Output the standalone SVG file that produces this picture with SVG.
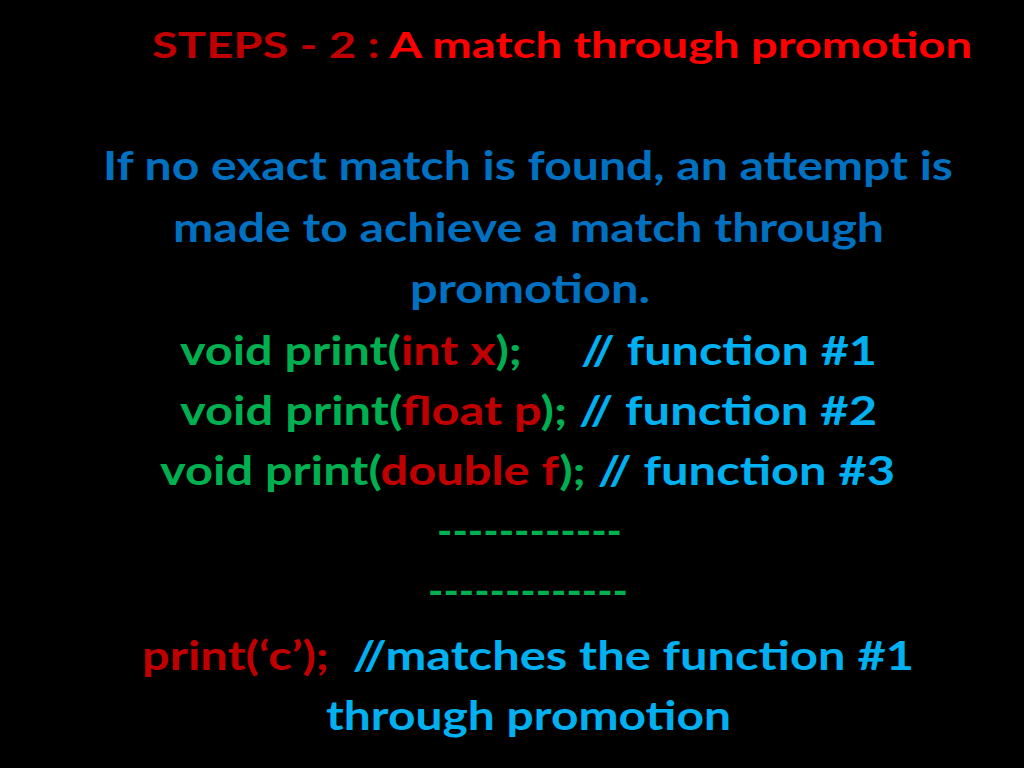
<svg xmlns="http://www.w3.org/2000/svg" width="1024" height="768" viewBox="0 0 1024 768">
<style>
text{font-family:Lato,"Open Sans","Liberation Sans",sans-serif;font-weight:bold;font-size:40px}
.dr{fill:#C00000}.r{fill:#FF0000}.b{fill:#0070C0}.g{fill:#00B050}.lb{fill:#00B0F0}
</style>
<rect width="1024" height="768" fill="#000"/>
<text x="152" y="58" textLength="820" lengthAdjust="spacingAndGlyphs" style="font-size:37px"><tspan class="dr">STEPS - 2 : </tspan><tspan class="r">A match through promotion</tspan></text>
<text class="b" x="103" y="180" textLength="850" lengthAdjust="spacingAndGlyphs">If no exact match is found, an attempt is</text>
<text class="b" x="173" y="242" textLength="711" lengthAdjust="spacingAndGlyphs">made to achieve a match through</text>
<text class="b" x="410" y="303" textLength="240" lengthAdjust="spacingAndGlyphs">promotion.</text>
<text x="180" y="365" textLength="697" lengthAdjust="spacingAndGlyphs" xml:space="preserve"><tspan class="g">void print(</tspan><tspan class="dr">int x</tspan><tspan class="g">);</tspan><tspan class="lb">     // function #1</tspan></text>
<text x="180" y="425" textLength="697" lengthAdjust="spacingAndGlyphs" xml:space="preserve"><tspan class="g">void print(</tspan><tspan class="dr">float p</tspan><tspan class="g">);</tspan><tspan class="lb"> // function #2</tspan></text>
<text x="160" y="485" textLength="735" lengthAdjust="spacingAndGlyphs" xml:space="preserve"><tspan class="g">void print(</tspan><tspan class="dr">double f</tspan><tspan class="g">);</tspan><tspan class="lb"> // function #3</tspan></text>
<text class="g" x="437" y="545" textLength="185" lengthAdjust="spacingAndGlyphs">------------</text>
<text class="g" x="428" y="605" textLength="200" lengthAdjust="spacingAndGlyphs">-------------</text>
<text x="142" y="670" textLength="772" lengthAdjust="spacingAndGlyphs" xml:space="preserve"><tspan class="dr">print(‘c’);</tspan><tspan class="lb">  //matches the function #1</tspan></text>
<text class="lb" x="326" y="730" textLength="405" lengthAdjust="spacingAndGlyphs">through promotion</text>
</svg>
